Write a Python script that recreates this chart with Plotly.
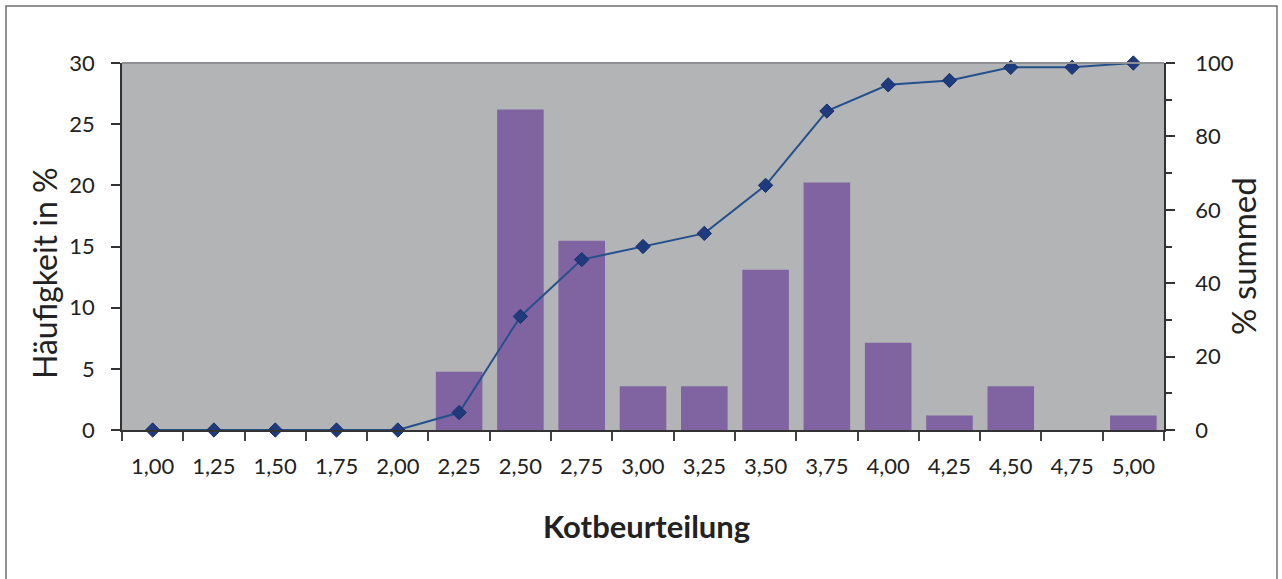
import plotly.graph_objects as go

# Kotbeurteilung categories and frequencies
categories = ["1,00", "1,25", "1,50", "1,75", "2,00", "2,25", "2,50", "2,75", "3,00",
              "3,25", "3,50", "3,75", "4,00", "4,25", "4,50", "4,75", "5,00"]
frequency_pct = [0, 0, 0, 0, 0, 4.76, 26.19, 15.48, 3.57, 3.57, 13.10, 20.24, 7.14,
                 1.19, 3.57, 0, 1.19]
cumulative_pct = [0, 0, 0, 0, 0, 4.76, 30.95, 46.43, 50.00, 53.57, 66.67, 86.90, 94.05,
                  95.24, 98.81, 98.81, 100.0]

W, H = 1282, 579
L, R, T, B = 122, 1164, 63, 430
pw, ph = R - L, B - T

def px(x):
    return (x - L) / pw

def py(y):
    return (B - y) / ph

font_family = "Lato, 'Open Sans', sans-serif"
text_color = "#222222"

fig = go.Figure()
fig.add_trace(go.Bar(
    x=categories, y=frequency_pct, marker=dict(color="#8064A2", line=dict(width=0)),
    width=0.76, yaxis="y", name="Häufigkeit"))
fig.add_trace(go.Scatter(
    x=categories, y=cumulative_pct, mode="lines+markers", yaxis="y2",
    line=dict(color="#24508C", width=2),
    marker=dict(symbol="diamond", size=11, color="#1F3A7D",
                line=dict(color="#17306A", width=1)),
    cliponaxis=False, name="% summed"))

fig.update_layout(
    width=W, height=H,
    margin=dict(l=L, r=W - R, t=T, b=H - B, pad=0),
    paper_bgcolor="white", plot_bgcolor="#B3B4B6",
    showlegend=False,
    font=dict(family=font_family, color=text_color, size=22),
    xaxis=dict(
        type="category", range=[-0.5, len(categories) - 0.5],
        tickson="boundaries", ticks="outside", ticklen=9,
        tickcolor="#444444", tickwidth=1.5, showgrid=False,
        showline=True, linecolor="#333333", linewidth=1.5,
        tickfont=dict(size=22), ticklabelstandoff=16,
    ),
    yaxis=dict(
        range=[0, 30], tickvals=[0, 5, 10, 15, 20, 25, 30], showgrid=False,
        ticks="outside", ticklen=9, tickcolor="#333333", tickwidth=1.5,
        showline=True, linecolor="#333333", linewidth=1.5, zeroline=False,
        tickfont=dict(size=22), ticklabelstandoff=12,
    ),
    yaxis2=dict(
        range=[0, 100], tickvals=[0, 20, 40, 60, 80, 100], overlaying="y", side="right",
        showgrid=False, ticks="outside", ticklen=9, tickcolor="#333333", tickwidth=1.5,
        minor=dict(tickvals=[10, 30, 50, 70, 90], ticks="outside", ticklen=6,
                   tickcolor="#333333", tickwidth=1.5),
        showline=True, linecolor="#333333", linewidth=1.5, zeroline=False,
        tickfont=dict(size=22), ticklabelstandoff=16,
    ),
    annotations=[
        dict(text="<b>Kotbeurteilung</b>", xref="paper", yref="paper",
             x=px(646), y=py(526), xanchor="center", yanchor="middle",
             showarrow=False, font=dict(size=31)),
        dict(text="Häufigkeit in %", xref="paper", yref="paper", textangle=-90,
             x=px(44), y=py(273), xanchor="center", yanchor="middle",
             showarrow=False, font=dict(size=32)),
        dict(text="% summed", xref="paper", yref="paper", textangle=-90,
             x=px(1243), y=py(256), xanchor="center", yanchor="middle",
             showarrow=False, font=dict(size=33)),
    ],
    shapes=[
        # upper edge of the plot area
        dict(type="line", xref="paper", yref="paper", x0=0, x1=1, y0=1, y1=1,
             line=dict(color="#8E8F92", width=2)),
        # chart frame
        dict(type="rect", xref="paper", yref="paper",
             x0=px(6), x1=px(1277), y0=py(583), y1=py(6),
             line=dict(color="#6F6F6F", width=1.5), fillcolor="rgba(0,0,0,0)",
             layer="below"),
    ],
)

fig.write_html("out.html")
